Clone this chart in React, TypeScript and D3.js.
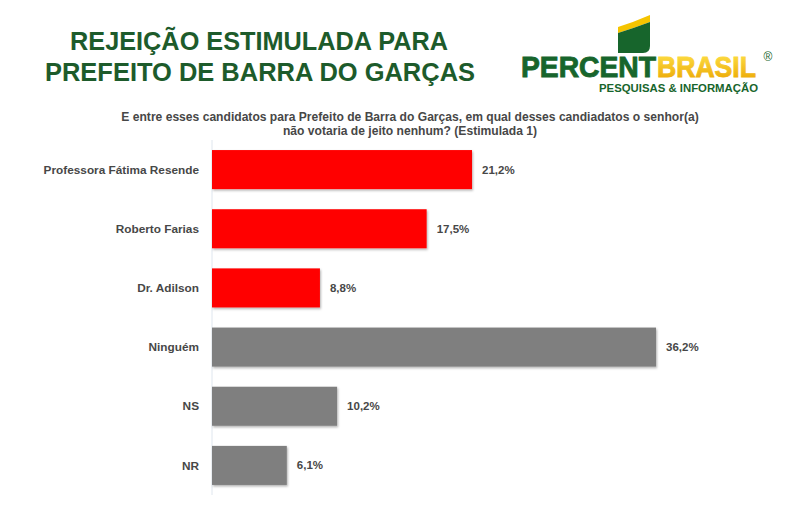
import React from "react";
import * as d3 from "d3";

const categories = ["Professora Fátima Resende", "Roberto Farias", "Dr. Adilson", "Ninguém", "NS", "NR"];
const values = [21.2, 17.5, 8.8, 36.2, 10.2, 6.1];
const valueLabels = ["21,2%", "17,5%", "8,8%", "36,2%", "10,2%", "6,1%"];
const barColors = ["#ff0000", "#ff0000", "#ff0000", "#7f7f7f", "#7f7f7f", "#7f7f7f"];

const titleLines = ["REJEIÇÃO ESTIMULADA PARA", "PREFEITO DE BARRA DO GARÇAS"];
const subtitleLines = [
  "E entre esses candidatos para Prefeito de Barra do Garças, em qual desses candiadatos o senhor(a)",
  "não votaria de jeito nenhum? (Estimulada 1)",
];

export default function App() {
  const x0 = 212;
  const x = d3.scaleLinear().domain([0, 36.2]).range([x0, 656]);
  const y = d3.scaleBand<string>().domain(categories).range([140, 495]).paddingInner(0.34).paddingOuter(0.17);
  const font = "Arial, 'Liberation Sans', sans-serif";
  const green = "#1d5b2b";
  const titleSpans = [[70, 378], [45, 430]];

  return (
    <svg width={800} height={514} style={{ position: "absolute", left: 0, top: 0, background: "#fff" }} fontFamily={font}>
      <defs>
        <filter id="sh" x="-5%" y="-10%" width="110%" height="130%">
          <feDropShadow dx="1" dy="1.5" stdDeviation="1" floodColor="#000" floodOpacity="0.3" />
        </filter>
        <linearGradient id="gold" x1="0" y1="0" x2="0" y2="1">
          <stop offset="0" stopColor="#ffe34a" />
          <stop offset="1" stopColor="#eaa400" />
        </linearGradient>
      </defs>
      <rect width={800} height={514} fill="#fff" />

      {/* Title */}
      {titleLines.map((t, i) => (
        <text key={t} x={titleSpans[i][0]} y={50 + i * 31} fontSize={26.5} fontWeight="bold" fill={green}
          textLength={titleSpans[i][1]} lengthAdjust="spacingAndGlyphs">
          {t}
        </text>
      ))}

      {/* Logo */}
      <g>
        <path d="M618,27 Q634,22 650,15 L650,22 Q634,28 618,33 Z" fill="#f5c400" />
        <path d="M618,33 Q634,28 650,22 L650,46 Q650,53 643,53 L618,53 Z" fill="#17652c" />
        <text x={521} y={77} fontSize={29} fontWeight="bold" fill="#17652c" stroke="#17652c" strokeWidth={0.9}
          textLength={135} lengthAdjust="spacingAndGlyphs">
          PERCENT
        </text>
        <text x={657} y={77} fontSize={29} fontWeight="bold" fill="url(#gold)" stroke="url(#gold)" strokeWidth={0.9}
          textLength={99} lengthAdjust="spacingAndGlyphs">
          BRASIL
        </text>
        <text x={768} y={61} fontSize={12} textAnchor="middle" fill="#17652c">®</text>
        <text x={599} y={92} fontSize={11.5} fontWeight="bold" fill="#17652c" textLength={159} lengthAdjust="spacingAndGlyphs">
          PESQUISAS &amp; INFORMAÇÃO
        </text>
      </g>

      {/* Subtitle */}
      {subtitleLines.map((t, i) => (
        <text key={i} x={410} y={121 + i * 14} textAnchor="middle" fontSize={12.1} fontWeight="bold" fill="#474747">
          {t}
        </text>
      ))}

      {/* Axis line */}
      <line x1={x0} x2={x0} y1={140} y2={495} stroke="#dfe6ee" strokeWidth={1} />

      {/* Bars */}
      {categories.map((c, i) => {
        const yy = y(c)!;
        const bw = y.bandwidth();
        return (
          <g key={c}>
            <rect x={x(0)} y={yy} width={x(values[i]) - x(0)} height={bw} fill={barColors[i]} filter="url(#sh)" />
            <text x={x0 - 13} y={yy + bw / 2} dy="0.35em" textAnchor="end" fontSize={11.8} fontWeight="bold" fill="#474747">
              {c}
            </text>
            <text x={x(values[i]) + 10} y={yy + bw / 2} dy="0.35em" fontSize={11.5} fontWeight="bold" fill="#474747">
              {valueLabels[i]}
            </text>
          </g>
        );
      })}
    </svg>
  );
}
